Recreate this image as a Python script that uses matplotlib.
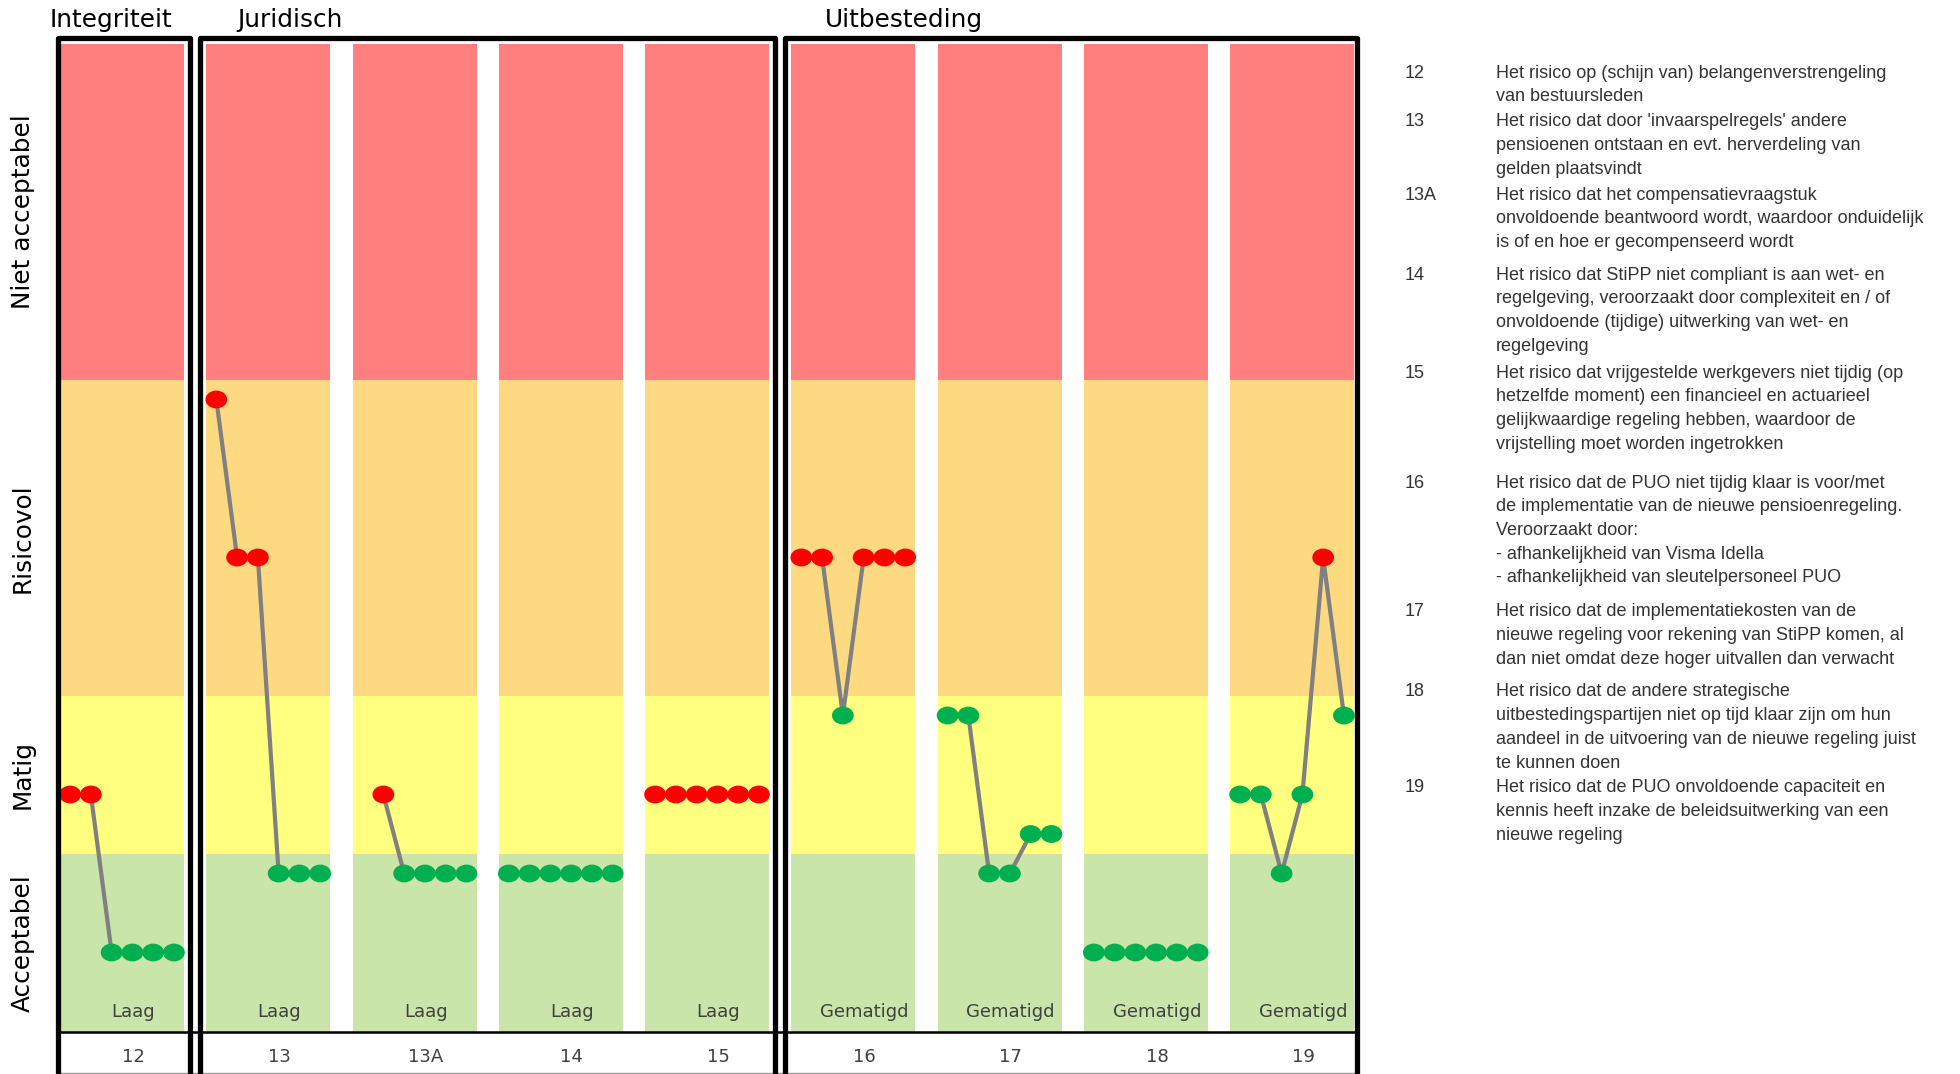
import numpy as np
import matplotlib
matplotlib.use("Agg")
import matplotlib.pyplot as plt
from matplotlib.path import Path
from matplotlib.patches import Rectangle

# ---- risk data -------------------------------------------------------------
risks = ["12", "13", "13A", "14", "15", "16", "17", "18", "19"]
appetite = ["Laag", "Laag", "Laag", "Laag", "Laag",
            "Gematigd", "Gematigd", "Gematigd", "Gematigd"]

# six successive assessments per risk (nan = not yet assessed)
scores = [
    [3, 3, 1, 1, 1, 1],
    [8, 6, 6, 2, 2, 2],
    [np.nan, 3, 2, 2, 2, 2],
    [2, 2, 2, 2, 2, 2],
    [3, 3, 3, 3, 3, 3],
    [6, 6, 4, 6, 6, 6],
    [4, 4, 2, 2, 2.5, 2.5],
    [1, 1, 1, 1, 1, 1],
    [3, 3, 2, 3, 6, 4],
]

group_names = ["Integriteit", "Juridisch", "Uitbesteding"]
group_members = [["12"], ["13", "13A", "14", "15"], ["16", "17", "18", "19"]]

zone_names = ["Acceptabel", "Matig", "Risicovol", "Niet acceptabel"]
zone_edges = [0, 2.25, 4.25, 8.25, 12.5]
zone_colors = ["#C9E5A9", "#FFFF80", "#FDDA82", "#FF7F7F"]

# score above this limit is outside the risk appetite
appetite_limit = {"Laag": 2.25, "Gematigd": 4.25}

legend = [
    ("12", ["Het risico op (schijn van) belangenverstrengeling",
            "van bestuursleden"]),
    ("13", ["Het risico dat door 'invaarspelregels' andere",
            "pensioenen ontstaan en evt. herverdeling van",
            "gelden plaatsvindt"]),
    ("13A", ["Het risico dat het compensatievraagstuk",
             "onvoldoende beantwoord wordt, waardoor onduidelijk",
             "is of en hoe er gecompenseerd wordt"]),
    ("14", ["Het risico dat StiPP niet compliant is aan wet- en",
            "regelgeving, veroorzaakt door complexiteit en / of",
            "onvoldoende (tijdige) uitwerking van wet- en",
            "regelgeving"]),
    ("15", ["Het risico dat vrijgestelde werkgevers niet tijdig (op",
            "hetzelfde moment) een financieel en actuarieel",
            "gelijkwaardige regeling hebben, waardoor de",
            "vrijstelling moet worden ingetrokken"]),
    ("16", ["Het risico dat de PUO niet tijdig klaar is voor/met",
            "de implementatie van de nieuwe pensioenregeling.",
            "Veroorzaakt door:",
            "- afhankelijkheid van Visma Idella",
            "- afhankelijkheid van sleutelpersoneel PUO"]),
    ("17", ["Het risico dat de implementatiekosten van de",
            "nieuwe regeling voor rekening van StiPP komen, al",
            "dan niet omdat deze hoger uitvallen dan verwacht"]),
    ("18", ["Het risico dat de andere strategische",
            "uitbestedingspartijen niet op tijd klaar zijn om hun",
            "aandeel in de uitvoering van de nieuwe regeling juist",
            "te kunnen doen"]),
    ("19", ["Het risico dat de PUO onvoldoende capaciteit en",
            "kennis heeft inzake de beleidsuitwerking van een",
            "nieuwe regeling"]),
]

# ---- layout ----------------------------------------------------------------
W, H = 1960, 1074
panel_w = 0.848          # coloured part of each column (column pitch = 1)
step = 0.142             # spacing between assessments
box_top = 12.58
title_offset = [-0.068, 0.21, 0.23]
legend_first_line = [73, 122, 195, 275, 373, 483, 612, 692, 788]
line_h = 23.7

fig = plt.figure(figsize=(W / 100, H / 100), dpi=100)
ax = fig.add_axes([0, 0, 1, 1])
ax.set_xlim(-60 / 146.25, (W - 60) / 146.25)
ax.set_ylim(-42.5 / 79, 1031.5 / 79)
ax.axis("off")

# slightly flattened dot marker
circ = Path.unit_circle()
dot = Path(circ.vertices * np.array([1.0, 0.82]), circ.codes)

for i, name in enumerate(risks):
    # coloured zones
    for lo, hi, c in zip(zone_edges[:-1], zone_edges[1:], zone_colors):
        ax.bar(i, hi - lo, bottom=lo, width=panel_w, align="edge",
               color=c, linewidth=0, zorder=1)

    y = np.array(scores[i], dtype=float)
    x = i + panel_w / 2 + (np.arange(len(y)) - (len(y) - 1) / 2) * step
    ax.plot(x, y, color="#808080", lw=3, zorder=3)
    limit = appetite_limit[appetite[i]]
    cols = ["#FF0000" if v > limit else "#00B050" for v in y]
    ax.scatter(x, y, s=245, marker=dot, c=cols, linewidths=0, zorder=4)

    ax.text(i + 0.5, 0.25, appetite[i], ha="center", va="center",
            fontsize=13, color="#404040")
    ax.text(i + 0.5, -0.32, name, ha="center", va="center",
            fontsize=13, color="#404040")

# group frames and titles
first_left = None
for g, (gname, members) in enumerate(zip(group_names, group_members)):
    s0 = risks.index(members[0])
    s1 = risks.index(members[-1])
    left = s0 - (0.017 if g == 0 else 0.04)
    right = s1 + panel_w + (0.017 if g == len(group_names) - 1 else 0.044)
    if first_left is None:
        first_left = left
    ax.add_patch(Rectangle((left, -2), right - left, box_top + 2,
                           fill=False, edgecolor="black", lw=3.8,
                           joinstyle="round", zorder=6))
    ax.text(s0 + title_offset[g], 12.8, gname, ha="left", va="center",
            fontsize=17.8, color="black")
    last_right = right

ax.hlines(0, first_left, last_right, color="black", lw=1.8, zorder=5)
ax.hlines(-0.525, first_left, last_right, color="#9A9A9A", lw=1, zorder=5)

# zone labels on the left
for zname, lo, hi in zip(zone_names, zone_edges[:-1], zone_edges[1:]):
    ax.text(-0.256, (lo + hi) / 2, zname, rotation=90, ha="center",
            va="center", fontsize=17.8, color="black")

# description list on the right
for (num, lines), y0 in zip(legend, legend_first_line):
    fig.text(1405 / W, 1 - y0 / H, num, ha="left", va="center",
             fontsize=13, color="#333333", family="Liberation Sans")
    for k, line in enumerate(lines):
        fig.text(1496 / W, 1 - (y0 + k * line_h) / H, line, ha="left",
                 va="center", fontsize=13, color="#333333",
                 family="Liberation Sans")

fig.savefig("out.png", dpi=100)
